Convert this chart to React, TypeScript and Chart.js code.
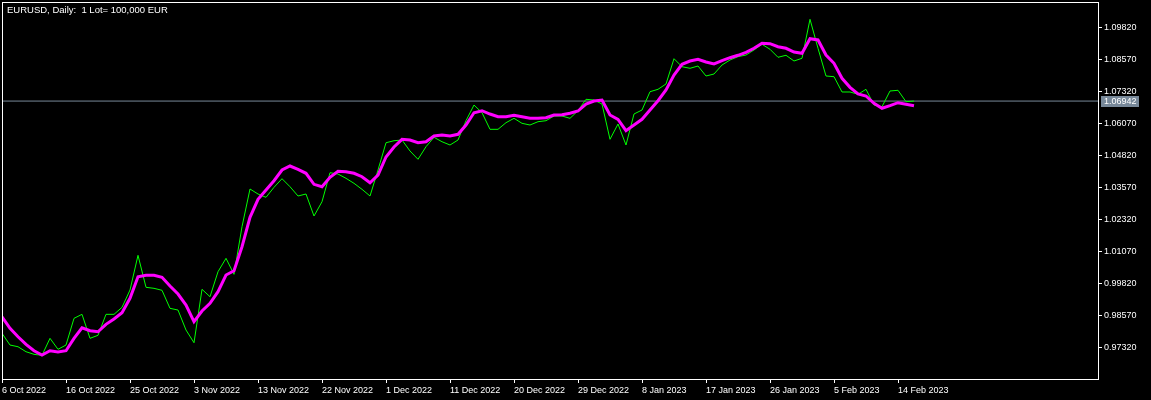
import React, { useEffect, useRef } from "react";
import { Chart, registerables } from "chart.js";

Chart.register(...registerables);

const chartTitle = "EURUSD, Daily:  1 Lot= 100,000 EUR";

// daily close prices (green)
const closes = [
  0.97881, 0.97424, 0.97358, 0.97163, 0.97061, 0.97022, 0.97686, 0.97257, 0.97424, 0.98466,
  0.98622, 0.97686, 0.97803, 0.98622, 0.98622, 0.98895, 0.99570, 1.00924, 0.99676, 0.99637,
  0.99559, 0.98856, 0.98790, 0.98010, 0.97514, 0.99598, 0.99309, 1.00284, 1.00807, 1.00183,
  1.02040, 1.03511, 1.03316, 1.03187, 1.03577, 1.03913, 1.03601, 1.03238, 1.03316, 1.02457,
  1.03015, 1.04147, 1.04096, 1.03928, 1.03733, 1.03499, 1.03238, 1.04252, 1.05317, 1.05395,
  1.05423, 1.04994, 1.04670, 1.05161, 1.05528, 1.05356, 1.05228, 1.05423, 1.06176, 1.06788,
  1.06488, 1.05840, 1.05840, 1.06098, 1.06269, 1.06074, 1.06008, 1.06137, 1.06176, 1.06359,
  1.06359, 1.06269, 1.06566, 1.07011, 1.06983, 1.06827, 1.05450, 1.06047, 1.05228, 1.06437,
  1.06593, 1.07307, 1.07401, 1.07608, 1.08595, 1.08283, 1.08220, 1.08310, 1.07920, 1.07998,
  1.08349, 1.08544, 1.08673, 1.08739, 1.08934, 1.09157, 1.08962, 1.08650, 1.08728, 1.08505,
  1.08611, 1.10132, 1.09001, 1.07920, 1.07893, 1.07296, 1.07296, 1.07206, 1.07401, 1.06788,
  1.06722, 1.07335, 1.07362, 1.06917, 1.06942,
];

// moving average (magenta)
const maValues = [
  0.98528, 0.98076, 0.97748, 0.97452, 0.97202, 0.97034, 0.97202, 0.97151, 0.97202, 0.97686,
  0.98099, 0.97982, 0.97943, 0.98232, 0.98439, 0.98685, 0.99246, 1.00089, 1.00144, 1.00144,
  1.00066, 0.99726, 0.99414, 0.98985, 0.98333, 0.98751, 0.99051, 0.99504, 1.00156, 1.00323,
  1.01260, 1.02407, 1.03109, 1.03472, 1.03835, 1.04252, 1.04408, 1.04280, 1.04124, 1.03694,
  1.03601, 1.03967, 1.04202, 1.04186, 1.04124, 1.03991, 1.03757, 1.04057, 1.04760, 1.05150,
  1.05450, 1.05423, 1.05317, 1.05356, 1.05579, 1.05618, 1.05579, 1.05645, 1.06008, 1.06488,
  1.06566, 1.06437, 1.06332, 1.06332, 1.06387, 1.06332, 1.06269, 1.06269, 1.06293, 1.06398,
  1.06410, 1.06465, 1.06554, 1.06827, 1.06944, 1.06983, 1.06398, 1.06230, 1.05786, 1.06008,
  1.06230, 1.06593, 1.06956, 1.07374, 1.07959, 1.08376, 1.08505, 1.08571, 1.08466, 1.08388,
  1.08517, 1.08634, 1.08728, 1.08845, 1.09001, 1.09196, 1.09180, 1.09063, 1.09001, 1.08856,
  1.08806, 1.09375, 1.09325, 1.08739, 1.08415, 1.07830, 1.07479, 1.07218, 1.07140, 1.06855,
  1.06660, 1.06761, 1.06878, 1.06816, 1.06761,
];

const lastPrice = 1.06942;

const priceTicks = [
  0.9732, 0.9857, 0.9982, 1.0107, 1.0232, 1.0357, 1.0482, 1.0607, 1.0732, 1.0857, 1.0982,
];

const dateTickBars = [0, 8, 16, 24, 32, 40, 48, 56, 64, 72, 80, 88, 96, 104, 112];
const dateTickLabels = [
  "6 Oct 2022", "16 Oct 2022", "25 Oct 2022", "3 Nov 2022", "13 Nov 2022",
  "22 Nov 2022", "1 Dec 2022", "11 Dec 2022", "20 Dec 2022", "29 Dec 2022",
  "8 Jan 2023", "17 Jan 2023", "26 Jan 2023", "5 Feb 2023", "14 Feb 2023",
];

const X_MAX_BARS = 137;
const Y_MIN = 0.96099;
const Y_MAX = 1.10807;

const FONT = "'Liberation Sans', Arial, sans-serif";

export default function App() {
  const ref = useRef<HTMLCanvasElement | null>(null);

  useEffect(() => {
    document.body.style.margin = "0";
    const canvas = ref.current;
    if (!canvas) return;

    const framePlugin = {
      id: "mtFrame",
      beforeDraw(chart: any) {
        const ctx = chart.ctx;
        ctx.save();
        ctx.fillStyle = "#000";
        ctx.fillRect(0, 0, chart.width, chart.height);
        ctx.restore();
      },
      afterDraw(chart: any) {
        const ctx = chart.ctx;
        const a = chart.chartArea;
        ctx.save();
        ctx.strokeStyle = "#ffffff";
        ctx.lineWidth = 1;
        ctx.strokeRect(a.left + 0.5, a.top + 0.5, a.right - a.left, a.bottom - a.top);
        // title
        ctx.fillStyle = "#ffffff";
        ctx.font = `9.5px ${FONT}`;
        ctx.textBaseline = "middle";
        ctx.textAlign = "left";
        ctx.fillText(chartTitle, a.left + 5, a.top + 8);
        // current price label
        const y = chart.scales.y.getPixelForValue(lastPrice);
        ctx.font = `9px ${FONT}`;
        ctx.fillStyle = "#778899";
        ctx.fillRect(a.right + 3, Math.round(y) - 5, 38, 11);
        ctx.fillStyle = "#ffffff";
        ctx.fillText(lastPrice.toFixed(5), a.right + 6, Math.round(y) + 0.5);
        ctx.restore();
      },
    };

    const chart = new Chart(canvas, {
      type: "line",
      data: {
        datasets: [
          {
            label: "MA",
            data: maValues.map((v, i) => ({ x: i, y: v })),
            borderColor: "#ff00ff",
            borderWidth: 3,
            pointRadius: 0,
            tension: 0,
            fill: false,
            order: 0,
          },
          {
            label: "Close",
            data: closes.map((v, i) => ({ x: i, y: v })),
            borderColor: "#00ff00",
            borderWidth: 1,
            pointRadius: 0,
            tension: 0,
            fill: false,
            order: 1,
          },
          {
            label: "Price",
            data: [
              { x: 0, y: lastPrice },
              { x: X_MAX_BARS, y: lastPrice },
            ],
            borderColor: "#778899",
            borderWidth: 1,
            pointRadius: 0,
            fill: false,
            order: 2,
          },
        ],
      },
      options: {
        animation: false,
        responsive: false,
        maintainAspectRatio: false,
        devicePixelRatio: 1,
        layout: { padding: { left: 2, top: 2, right: 0, bottom: 0 } },
        plugins: {
          legend: { display: false },
          tooltip: { enabled: false },
          title: { display: false },
        },
        scales: {
          x: {
            type: "linear",
            position: "bottom",
            min: 0,
            max: X_MAX_BARS,
            afterBuildTicks: (s: any) => {
              s.ticks = dateTickBars.map((v) => ({ value: v }));
            },
            afterFit: (s: any) => {
              s.height = 21;
              s.paddingLeft = 0;
              s.paddingRight = 0;
            },
            grid: {
              display: true,
              drawOnChartArea: false,
              drawTicks: true,
              tickLength: 4,
              color: "#ffffff",
            },
            border: { display: false },
            ticks: {
              autoSkip: false,
              maxRotation: 0,
              minRotation: 0,
              align: "start",
              padding: 2,
              color: "#ffffff",
              font: { family: FONT, size: 9 },
              callback: (_v: any, idx: number) => dateTickLabels[idx],
            },
          },
          y: {
            type: "linear",
            position: "right",
            min: Y_MIN,
            max: Y_MAX,
            afterBuildTicks: (s: any) => {
              s.ticks = priceTicks.map((v) => ({ value: v }));
            },
            afterFit: (s: any) => {
              s.width = 53;
              s.paddingTop = 0;
              s.paddingBottom = 0;
            },
            grid: {
              display: true,
              drawOnChartArea: false,
              drawTicks: true,
              tickLength: 4,
              color: "#ffffff",
            },
            border: { display: false },
            ticks: {
              padding: 2,
              color: "#ffffff",
              font: { family: FONT, size: 9 },
              callback: (v: any) => Number(v).toFixed(5),
            },
          },
        },
      },
      plugins: [framePlugin],
    } as any);

    return () => chart.destroy();
  }, []);

  return (
    <div style={{ width: 1151, height: 400, background: "#000" }}>
      <canvas ref={ref} width={1151} height={400} style={{ display: "block" }} />
    </div>
  );
}
